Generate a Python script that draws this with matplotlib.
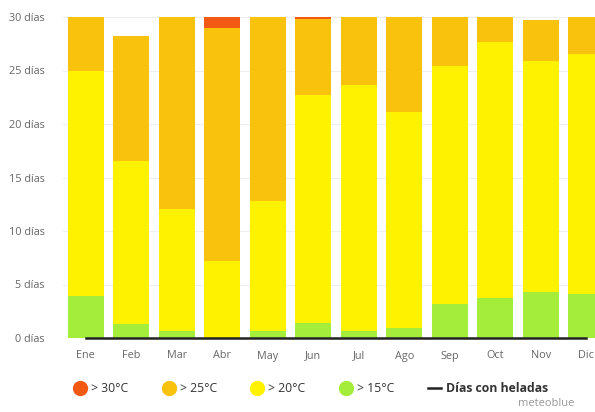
import numpy as np
import matplotlib
matplotlib.use("Agg")
import matplotlib.pyplot as plt
from matplotlib.lines import Line2D

plt.rcParams['font.family'] = ['Open Sans', 'DejaVu Sans']

meses = ['Ene', 'Feb', 'Mar', 'Abr', 'May', 'Jun', 'Jul', 'Ago', 'Sep', 'Oct', 'Nov', 'Dic']
# dias por tramo de temperatura maxima
dias_15 = [3.9, 1.3, 0.7, 0.0, 0.7, 1.4, 0.7, 0.9, 3.2, 3.7, 4.3, 4.1]
dias_20 = [21.1, 15.2, 11.4, 7.2, 12.1, 21.3, 22.9, 20.2, 22.2, 24.0, 21.6, 22.4]
dias_25 = [5.0, 11.7, 17.9, 21.8, 17.2, 7.15, 6.4, 8.9, 4.6, 2.3, 3.8, 3.5]
dias_30 = [0.0, 0.0, 0.0, 1.0, 0.0, 0.15, 0.0, 0.0, 0.0, 0.0, 0.0, 0.0]
heladas = [0, 0, 0, 0, 0, 0, 0, 0, 0, 0, 0, 0]

c30 = '#f25a14'
c25 = '#f9c20c'
c20 = '#fff200'
c15 = '#a4ed3a'

fig = plt.figure(figsize=(5.95, 4.12), dpi=100)
ax = fig.add_axes([63 / 595, 74 / 412, (595 - 63) / 595, 31 * 10.7 / 412])

x = np.arange(len(meses))
w = 0.79
b1 = np.array(dias_15)
b2 = b1 + np.array(dias_20)
b3 = b2 + np.array(dias_25)

ax.bar(x, dias_15, w, color=c15, zorder=2)
ax.bar(x, dias_20, w, bottom=b1, color=c20, zorder=2)
ax.bar(x, dias_25, w, bottom=b2, color=c25, zorder=2)
ax.bar(x, dias_30, w, bottom=b3, color=c30, zorder=2)
ax.plot(x, heladas, color='#222222', lw=1.8, zorder=3, clip_on=False)

ax.set_xlim(-0.5, 11.19)
ax.set_ylim(0, 31)
ax.set_yticks(range(0, 31, 5))
ax.set_yticklabels([f'{v} días' for v in range(0, 31, 5)])
ax.set_xticks(x)
ax.set_xticklabels(meses)
ax.tick_params(length=0, labelsize=7.8, labelcolor='#666666')
ax.tick_params(axis='x', pad=9)
ax.tick_params(axis='y', pad=13)
for s in ax.spines.values():
    s.set_visible(False)
ax.grid(axis='y', color='#eeeeee', lw=0.8, zorder=0)

handles = [
    Line2D([], [], marker='o', ls='', color=c30, markersize=10),
    Line2D([], [], marker='o', ls='', color=c25, markersize=10),
    Line2D([], [], marker='o', ls='', color=c20, markersize=10),
    Line2D([], [], marker='o', ls='', color=c15, markersize=10),
    Line2D([], [], color='#222222', lw=1.8),
]
labels = ['> 30°C', '> 25°C', '> 20°C', '> 15°C', 'Días con heladas']
leg = fig.legend(handles, labels, ncol=5, loc='center', bbox_to_anchor=(0.522, 0.057),
                 frameon=False, fontsize=8.8, handlelength=1.1, handletextpad=0.35,
                 columnspacing=2.75)
for t in leg.get_texts():
    t.set_color('#333333')
leg.get_texts()[-1].set_fontweight('bold')

fig.text(0.965, 0.008, 'meteoblue', ha='right', va='bottom', fontsize=8, color='#999999')

fig.savefig('out.png', dpi=100)
